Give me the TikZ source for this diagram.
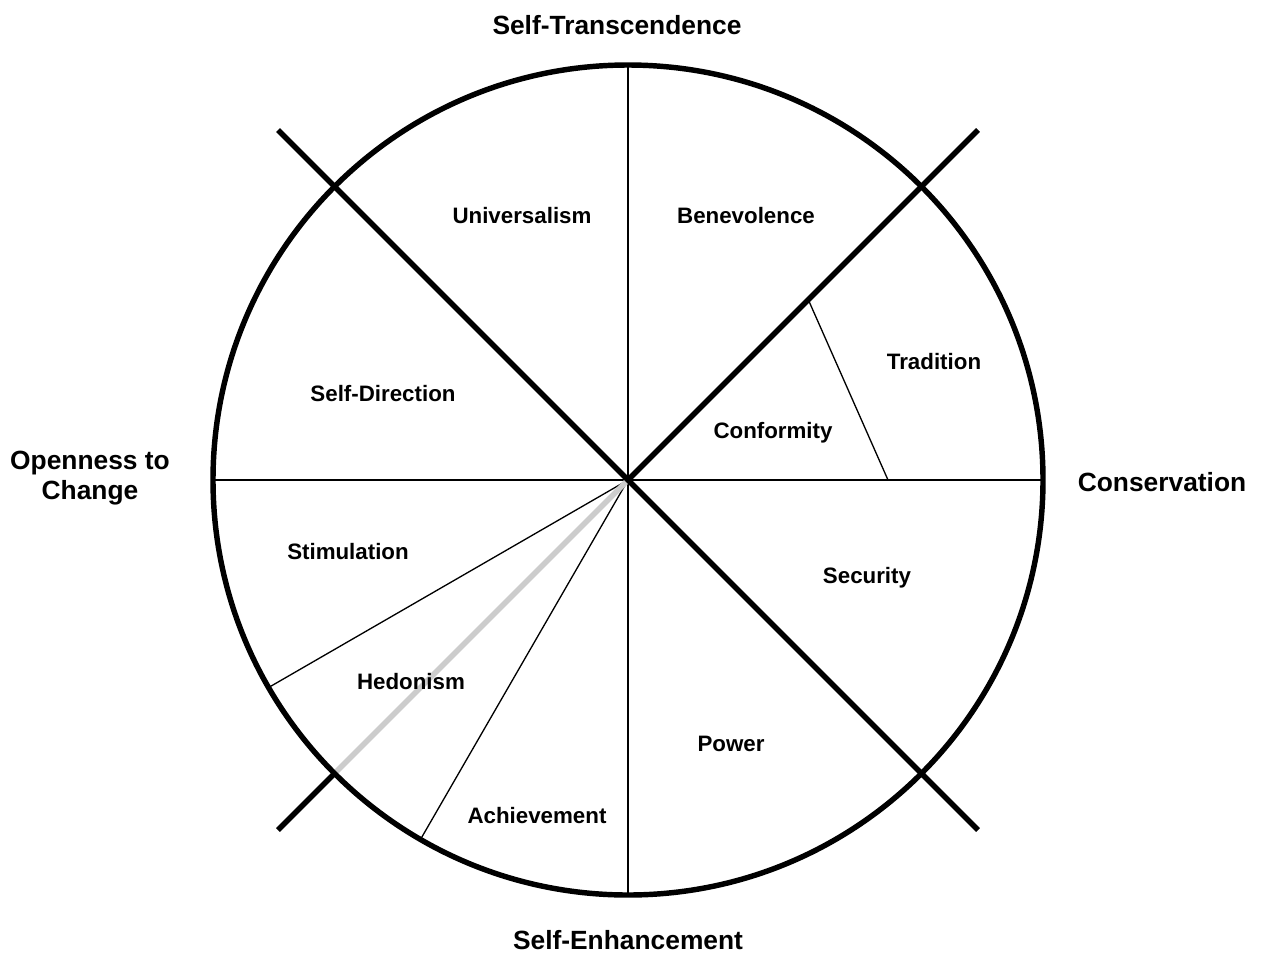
\documentclass[tikz,border=0pt]{standalone}
\usepackage{fontspec}
\setmainfont{Liberation Sans}
\begin{document}
\begin{tikzpicture}[x=0.02cm,y=-0.02cm,
  rim/.style={line width=3.1pt},
  axisline/.style={line width=3.1pt},
  divider/.style={line width=0.75pt},
  greyline/.style={line width=3.1pt,color=black!20},
  valuelabel/.style={font=\fontsize{12.7}{15}\selectfont\bfseries,inner sep=0pt},
  domainlabel/.style={font=\fontsize{15}{17.5}\selectfont\bfseries,inner sep=0pt,align=center}]
\useasboundingbox (0,0) rectangle (1261,954);
\fill[white] (0,0) rectangle (1261,954);

% centre and points on the rim
\coordinate (c) at (628,480);
\coordinate (top) at (628,65);
\coordinate (bot) at (628,895);
\coordinate (lft) at (213,480);
\coordinate (rgt) at (1043,480);
\coordinate (stimend) at (268.6,687.5);
\coordinate (hedend) at (420.5,839.4);
\coordinate (swrim) at (334.6,773.4);
\coordinate (confa) at (808.3,299.7);
\coordinate (confb) at (888,480);
\coordinate (nw) at (278,130);
\coordinate (ne) at (978,130);
\coordinate (se) at (978,830);
\coordinate (sw) at (278,830);

% thin sector dividers
\draw[divider] (top) -- (bot);
\draw[divider] (lft) -- (rgt);
\draw[divider] (c) -- (stimend);
\draw[divider] (c) -- (hedend);
\draw[divider] (confa) -- (confb);

% grey boundary between hedonism and achievement side
\draw[greyline] (c) -- (swrim);

% heavy cross axes
\draw[axisline] (nw) -- (se);
\draw[axisline] (ne) -- (c);
\draw[axisline] (swrim) -- (sw);

% outer circle
\draw[rim] (c) circle[radius=415];

% value labels
\node[valuelabel] (univ) at (522,216) {Universalism};
\node[valuelabel] (bene) at (746,216) {Benevolence};
\node[valuelabel] (trad) at (934,362) {Tradition};
\node[valuelabel] (conf) at (773,433) {Conformity};
\node[valuelabel] (sdir) at (383,394) {Self-Direction};
\node[valuelabel] (stim) at (348,552) {Stimulation};
\node[valuelabel] (secu) at (867,578) {Security};
\node[valuelabel] (hedo) at (411,682) {Hedonism};
\node[valuelabel] (powr) at (731,744) {Power};
\node[valuelabel] (achv) at (537,816) {Achievement};

% higher-order domains
\node[domainlabel] (st) at (617,25) {Self-Transcendence};
\node[domainlabel] (cons) at (1162,482) {Conservation};
\node[domainlabel] (open) at (90,478) {Openness to\\Change};
\node[domainlabel] (se2) at (628,940) {Self-Enhancement};
\end{tikzpicture}
\end{document}
